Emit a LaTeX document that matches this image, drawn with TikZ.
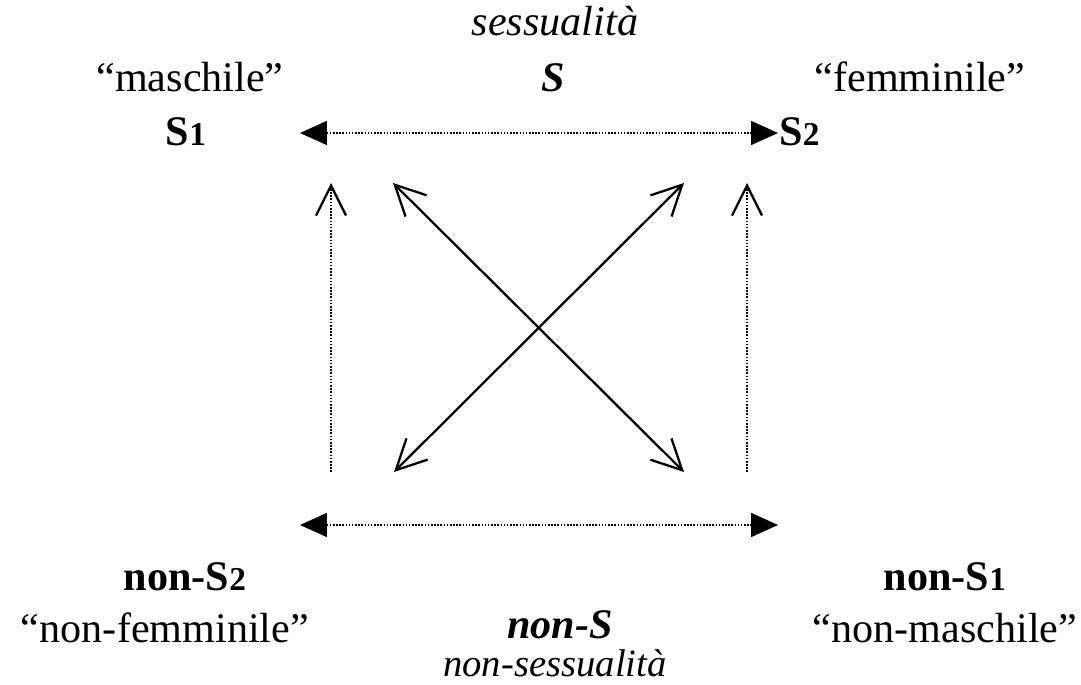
\documentclass[tikz,border=0pt]{standalone}
\usepackage{fontspec}
\setmainfont{Liberation Serif}
\usetikzlibrary{arrows.meta}
\newcommand\fsz{\fontsize{24}{28}\selectfont}
\newcommand\sdig[1]{{\fontsize{19}{19}\selectfont #1}}

\begin{document}
\begin{tikzpicture}[x=0.02cm,y=-0.02cm,font=\fsz]
\tikzstyle{t}=[inner sep=0pt,anchor=base]
\tikzstyle{it}=[t,font=\fsz\itshape]
\tikzstyle{bf}=[t,font=\fsz\bfseries]
\tikzstyle{bi}=[t,font=\fsz\bfseries\itshape]
\tikzstyle{dot}=[line width=0.9pt,dash pattern=on 0.9pt off 0.9pt]
\tikzstyle{tri}=[{Triangle[length=0.54cm,width=0.48cm]}-{Triangle[length=0.54cm,width=0.48cm]}]
\tikzstyle{barb}=[line width=1.3pt,{Straight Barb[length=0.6cm,width=0.6cm]}-{Straight Barb[length=0.6cm,width=0.6cm]}]
\tikzstyle{up}=[-{Straight Barb[length=0.6cm,width=0.6cm,line width=1.3pt]}]
\useasboundingbox (0,0) rectangle (1081,685);
\node[it] (sess) at (555,36) {sessualità};
\node[t] (masc) at (190,92) {“maschile”}; \node[bi] (S) at (553,92) {S}; \node[t] (femm) at (920,92) {“femminile”};
\node[bf] (S1) at (186,146) {S\sdig{1}}; \node[bf,anchor=base west] (S2) at (779,146) {S\sdig{2}};
\node[bf] (nS2) at (185,590) {non-S\sdig{2}}; \node[bf] (nS1) at (945,590) {non-S\sdig{1}};
\node[t] (nfemm) at (165,642) {“non-femminile”}; \node[bi] (nS) at (560,638) {non-S}; \node[t] (nmasc) at (945,642) {“non-maschile”};
\node[it,font=\fontsize{22}{26}\selectfont\itshape] (nsess) at (555,676) {non-sessualità};
\coordinate (a) at (300,133); \coordinate (b) at (778,133);
\coordinate (c) at (300,525); \coordinate (d) at (778,525);
\coordinate (tl) at (393,183); \coordinate (tr) at (684,183);
\coordinate (bl) at (394,472); \coordinate (br) at (684,472);
\coordinate (vl) at (331,183); \coordinate (vr) at (747,183);
\coordinate (ul) at (331,472); \coordinate (ur) at (747,472);
\draw[dot,tri] (a) -- (b); \draw[dot,tri] (c) -- (d);
\draw[dot,up] (ul) -- (vl); \draw[dot,up] (ur) -- (vr);
\draw[barb] (tl) -- (br); \draw[barb] (tr) -- (bl);
\end{tikzpicture}
\end{document}
